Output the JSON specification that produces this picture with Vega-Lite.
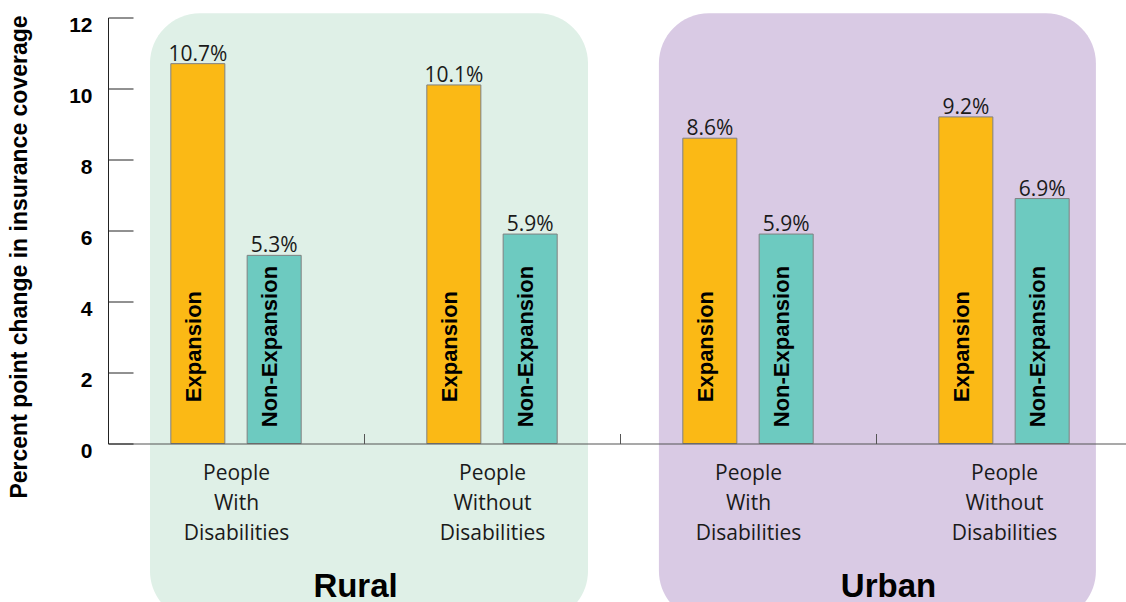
{
  "$schema": "https://vega.github.io/schema/vega-lite/v6.json",
  "width": 1018,
  "height": 426,
  "autosize": {"type": "none"},
  "padding": {"left": 108, "top": 17.5, "right": 0, "bottom": 158.5},
  "background": "white",
  "config": {"view": {"stroke": null}},
  "datasets": {
    "bars": [
      {"region": "Rural", "group": "Rural|People|With|Disabilities", "policy": "Expansion", "value": 10.7},
      {"region": "Rural", "group": "Rural|People|With|Disabilities", "policy": "Non-Expansion", "value": 5.3},
      {"region": "Rural", "group": "Rural|People|Without|Disabilities", "policy": "Expansion", "value": 10.1},
      {"region": "Rural", "group": "Rural|People|Without|Disabilities", "policy": "Non-Expansion", "value": 5.9},
      {"region": "Urban", "group": "Urban|People|With|Disabilities", "policy": "Expansion", "value": 8.6},
      {"region": "Urban", "group": "Urban|People|With|Disabilities", "policy": "Non-Expansion", "value": 5.9},
      {"region": "Urban", "group": "Urban|People|Without|Disabilities", "policy": "Expansion", "value": 9.2},
      {"region": "Urban", "group": "Urban|People|Without|Disabilities", "policy": "Non-Expansion", "value": 6.9}
    ],
    "regions": [
      {"region": "Rural", "start": 0.164, "end": 1.875, "top": 12.12, "bottom": -5, "labelPos": 0.967},
      {"region": "Urban", "start": 2.152, "end": 3.859, "top": 12.12, "bottom": -5, "labelPos": 3.049}
    ]
  },
  "layer": [
    {
      "data": {"name": "regions"},
      "mark": {"type": "rect", "cornerRadius": 50},
      "encoding": {
        "x": {"field": "start", "type": "quantitative", "scale": {"domain": [0, 4], "range": [0, 1024], "nice": false, "zero": false}, "axis": null},
        "x2": {"field": "end"},
        "y": {"field": "top", "type": "quantitative", "scale": {"domain": [0, 12], "nice": false}},
        "y2": {"field": "bottom"},
        "color": {"field": "region", "type": "nominal", "scale": {"domain": ["Rural", "Urban"], "range": ["#DFF0E7", "#D9CAE4"]}, "legend": null}
      }
    },
    {
      "data": {"name": "regions"},
      "mark": {"type": "text", "font": "Liberation Sans", "fontWeight": "bold", "fontSize": 33, "align": "center", "baseline": "alphabetic", "color": "#000000"},
      "encoding": {
        "x": {"field": "labelPos", "type": "quantitative", "scale": {"domain": [0, 4], "range": [0, 1024], "nice": false, "zero": false}, "axis": null},
        "y": {"datum": -4.33, "type": "quantitative"},
        "text": {"field": "region"}
      }
    },
    {
      "data": {"name": "bars"},
      "mark": {"type": "bar", "stroke": "#808080", "strokeWidth": 1},
      "encoding": {
        "x": {
          "field": "group", "type": "nominal", "sort": null,
          "scale": {"type": "band", "range": [0, 1024], "paddingInner": 0, "paddingOuter": 0},
          "axis": {
            "title": null, "orient": "bottom", "tickBand": "extent", "tickSize": -10,
            "tickColor": "#555555", "domainColor": "#555555", "domainWidth": 1.2,
            "labelExpr": "slice(split(datum.value, '|'), 1)",
            "labelFont": "Open Sans", "labelFontSize": 21, "labelColor": "#1a1a1a",
            "labelLineHeight": 30, "labelPadding": 29, "labelAngle": 0, "labelBaseline": "top",
            "zindex": 1
          }
        },
        "xOffset": {"field": "policy", "type": "nominal", "scale": {"domain": ["Expansion", "Non-Expansion"], "paddingInner": 0.292, "paddingOuter": 0.823}},
        "y": {
          "field": "value", "type": "quantitative",
          "scale": {"domain": [0, 12], "nice": false},
          "axis": {
            "title": "Percent point change in insurance coverage",
            "values": [0, 2, 4, 6, 8, 10, 12],
            "tickSize": -25, "tickColor": "#222222", "domainColor": "#222222",
            "labelFont": "Liberation Sans", "labelFontWeight": "bold", "labelFontSize": 21, "labelColor": "#000000",
            "labelPadding": 41, "labelOffset": 8, "labelBaseline": "middle", "labelAlign": "right",
            "titleFont": "Liberation Sans", "titleFontWeight": "bold", "titleFontSize": 23, "titleColor": "#000000",
            "titleAngle": -90, "titleX": -81.5, "titleY": 239, "titleAlign": "center", "titleBaseline": "alphabetic",
            "grid": false, "zindex": 1
          }
        },
        "color": {"field": "policy", "type": "nominal", "scale": {"domain": ["Expansion", "Non-Expansion"], "range": ["#FBB915", "#6DCAC0"]}, "legend": null}
      }
    },
    {
      "data": {"name": "bars"},
      "transform": [{"calculate": "format(datum.value, '.1f') + '%'", "as": "label"}],
      "mark": {"type": "text", "font": "Open Sans", "fontSize": 21, "align": "center", "baseline": "alphabetic", "dy": -3, "color": "#1a1a1a"},
      "encoding": {
        "x": {"field": "group", "type": "nominal", "sort": null, "scale": {"type": "band", "range": [0, 1024], "paddingInner": 0, "paddingOuter": 0}, "axis": null},
        "xOffset": {"field": "policy", "type": "nominal", "scale": {"type": "band", "domain": ["Expansion", "Non-Expansion"], "paddingInner": 0.292, "paddingOuter": 0.823}},
        "y": {"field": "value", "type": "quantitative"},
        "text": {"field": "label"}
      }
    },
    {
      "data": {"name": "bars"},
      "mark": {"type": "text", "font": "Liberation Sans", "fontWeight": "bold", "fontSize": 22, "angle": 270, "align": "center", "baseline": "alphabetic", "dy": 3, "color": "#000000"},
      "encoding": {
        "x": {"field": "group", "type": "nominal", "sort": null, "scale": {"type": "band", "range": [0, 1024], "paddingInner": 0, "paddingOuter": 0}, "axis": null},
        "xOffset": {"field": "policy", "type": "nominal", "scale": {"type": "band", "domain": ["Expansion", "Non-Expansion"], "paddingInner": 0.292, "paddingOuter": 0.823}},
        "y": {"datum": 2.73, "type": "quantitative"},
        "text": {"field": "policy"}
      }
    }
  ],
  "resolve": {"scale": {"x": "independent", "xOffset": "independent", "color": "independent"}}
}
